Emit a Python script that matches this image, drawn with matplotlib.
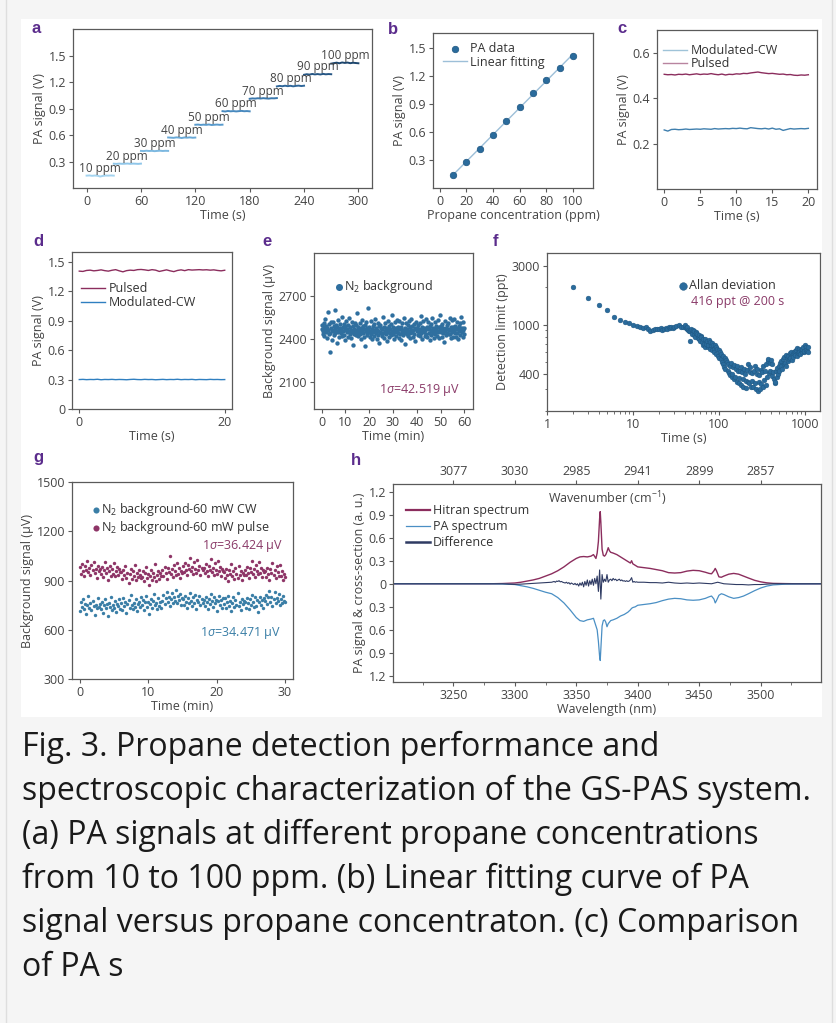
import numpy as np
import matplotlib
matplotlib.use('Agg')
import matplotlib.pyplot as plt
from matplotlib.lines import Line2D
from matplotlib.patches import Rectangle
import matplotlib.ticker as mticker

W, H = 836, 1023
plt.rcParams['font.family'] = ['Open Sans', 'DejaVu Sans']
plt.rcParams['mathtext.fontset'] = 'custom'
plt.rcParams['mathtext.rm'] = 'Open Sans'
plt.rcParams['mathtext.it'] = 'Open Sans:italic'
plt.rcParams['font.size'] = 9

MAROON = '#8b2d5d'
BLUE = '#3f7fae'
NAVY = '#2f3b63'
TXT = '#444444'

# ---------------- data ----------------
# (a) step responses
a_conc_labels = ['10 ppm', '20 ppm', '30 ppm', '40 ppm', '50 ppm', '60 ppm', '70 ppm', '80 ppm', '90 ppm', '100 ppm']
a_step_start = [0, 30, 60, 90, 120, 150, 180, 210, 240, 270]
a_steps = [
    [0.140, 0.142, 0.138, 0.141, 0.139, 0.130, 0.137, 0.141, 0.140, 0.142, 0.140],
    [0.275, 0.273, 0.276, 0.274, 0.275, 0.277, 0.274, 0.276, 0.275, 0.273, 0.276],
    [0.420, 0.418, 0.422, 0.419, 0.421, 0.417, 0.420, 0.422, 0.419, 0.421, 0.420],
    [0.572, 0.570, 0.568, 0.573, 0.571, 0.566, 0.572, 0.570, 0.573, 0.569, 0.571],
    [0.716, 0.718, 0.714, 0.717, 0.715, 0.719, 0.713, 0.716, 0.718, 0.715, 0.717],
    [0.870, 0.866, 0.872, 0.868, 0.871, 0.867, 0.870, 0.873, 0.869, 0.871, 0.868],
    [1.010, 1.014, 1.012, 1.016, 1.013, 1.017, 1.014, 1.012, 1.016, 1.015, 1.018],
    [1.150, 1.156, 1.152, 1.158, 1.153, 1.157, 1.151, 1.156, 1.159, 1.154, 1.158],
    [1.282, 1.288, 1.284, 1.291, 1.286, 1.290, 1.285, 1.292, 1.287, 1.290, 1.288],
    [1.408, 1.414, 1.419, 1.412, 1.421, 1.416, 1.420, 1.413, 1.418, 1.415, 1.412],
]
a_colors = ['#a3d3ef', '#8fc6e9', '#7cb8e0', '#69a9d7', '#589acc', '#4889be', '#3b78ad',
            '#30679a', '#265684', '#1c456d']

# (b) linear fit
b_conc = [10, 20, 30, 40, 50, 60, 70, 80, 90, 100]
b_signal = [0.140, 0.275, 0.420, 0.572, 0.716, 0.870, 1.015, 1.155, 1.288, 1.416]

# (c) 0-20 s, 0.5 s step
c_pulsed = [0.505, 0.503, 0.504, 0.502, 0.505, 0.504, 0.506, 0.503, 0.505, 0.507, 0.504, 0.506, 0.505, 0.508,
            0.505, 0.503, 0.506, 0.502, 0.505, 0.504, 0.507, 0.506, 0.509, 0.508, 0.511, 0.513, 0.515, 0.512,
            0.510, 0.508, 0.509, 0.507, 0.505, 0.506, 0.503, 0.504, 0.501, 0.500, 0.502, 0.501, 0.503]
c_cw = [0.260, 0.255, 0.262, 0.263, 0.261, 0.262, 0.264, 0.262, 0.263, 0.264, 0.263, 0.265, 0.264, 0.263,
        0.266, 0.264, 0.265, 0.266, 0.265, 0.267, 0.266, 0.268, 0.266, 0.265, 0.270, 0.268, 0.266, 0.265,
        0.267, 0.264, 0.268, 0.263, 0.265, 0.258, 0.262, 0.266, 0.264, 0.265, 0.266, 0.265, 0.267]

# (d) 0-20 s, 0.5 s step
d_pulsed = [1.405, 1.402, 1.412, 1.415, 1.408, 1.412, 1.418, 1.410, 1.405, 1.414, 1.420, 1.408, 1.398, 1.410,
            1.415, 1.412, 1.420, 1.422, 1.418, 1.412, 1.420, 1.415, 1.402, 1.410, 1.418, 1.408, 1.400, 1.412,
            1.418, 1.410, 1.420, 1.416, 1.418, 1.420, 1.417, 1.419, 1.415, 1.418, 1.412, 1.408, 1.414]
d_cw = [0.300, 0.302, 0.299, 0.301, 0.300, 0.303, 0.298, 0.301, 0.300, 0.302, 0.299, 0.301, 0.300, 0.298,
        0.301, 0.303, 0.300, 0.299, 0.302, 0.300, 0.301, 0.298, 0.300, 0.302, 0.299, 0.301, 0.300, 0.303,
        0.299, 0.301, 0.300, 0.302, 0.298, 0.301, 0.300, 0.299, 0.302, 0.300, 0.301, 0.299, 0.300]

# (e) N2 background over 60 min (uV)
e_bg = [
    2471, 2498, 2436, 2455, 2512, 2480, 2421, 2467, 2539, 2448, 2490, 2403, 2475, 2460, 2586, 2432, 2506, 2310, 2444, 2521,
    2478, 2395, 2463, 2517, 2452, 2488, 2426, 2470, 2601, 2441, 2495, 2458, 2372, 2484, 2449, 2530, 2466, 2412, 2477, 2503,
    2438, 2462, 2551, 2419, 2486, 2453, 2507, 2430, 2474, 2389, 2493, 2459, 2527, 2445, 2468, 2416, 2499, 2455, 2545, 2436,
    2481, 2407, 2465, 2520, 2447, 2490, 2358, 2472, 2432, 2511, 2456, 2498, 2425, 2463, 2578, 2441, 2484, 2418, 2469, 2450,
    2509, 2437, 2476, 2399, 2458, 2533, 2444, 2488, 2413, 2467, 2496, 2351, 2452, 2519, 2439, 2474, 2428, 2460, 2615, 2446,
    2482, 2410, 2455, 2524, 2435, 2470, 2396, 2487, 2449, 2505, 2423, 2461, 2540, 2443, 2478, 2401, 2464, 2514, 2430, 2457,
    2489, 2372, 2451, 2497, 2438, 2475, 2420, 2468, 2552, 2442, 2483, 2409, 2456, 2510, 2434, 2479, 2386, 2462, 2526, 2447,
    2471, 2415, 2493, 2440, 2466, 2504, 2427, 2458, 2569, 2436, 2485, 2398, 2463, 2516, 2445, 2477, 2419, 2459, 2535, 2441,
    2480, 2404, 2467, 2523, 2433, 2472, 2391, 2486, 2450, 2508, 2424, 2460, 2547, 2439, 2476, 2365, 2457, 2513, 2431, 2469,
    2494, 2418, 2454, 2528, 2443, 2481, 2406, 2465, 2536, 2448, 2487, 2412, 2461, 2502, 2437, 2473, 2383, 2470, 2519, 2452,
    2475, 2429, 2496, 2444, 2468, 2511, 2422, 2459, 2558, 2440, 2482, 2400, 2464, 2525, 2446, 2479, 2417, 2462, 2541, 2435,
    2484, 2411, 2469, 2518, 2438, 2477, 2394, 2488, 2453, 2506, 2426, 2463, 2549, 2442, 2474, 2408, 2458, 2515, 2433, 2471,
    2491, 2420, 2457, 2531, 2445, 2483, 2403, 2466, 2564, 2449, 2489, 2414, 2460, 2504, 2439, 2476, 2380, 2472, 2522, 2454,
    2478, 2425, 2498, 2442, 2470, 2513, 2431, 2461, 2543, 2437, 2485, 2405, 2467, 2529, 2448, 2480, 2416, 2463, 2537, 2444,
    2487, 2413, 2472, 2521, 2440, 2479, 2397, 2490, 2456, 2509, 2428, 2466, 2555, 2446, 2477, 2410, 2459, 2517, 2436, 2474,
]

# (f) Allan deviation (ppt)
f_time_sparse = [2, 3, 4, 5, 6, 7, 8, 9, 10, 11, 12, 13, 14, 15, 16, 17, 18, 19, 20, 21, 22, 23, 24, 25, 26, 27,
                 28, 29, 30, 32, 34, 36, 38]
f_dev_sparse = [2000, 1640, 1450, 1310, 1160, 1100, 1050, 1030, 1000, 975, 955, 940, 950, 930, 890, 905, 915, 930,
                920, 935, 910, 930, 945, 925, 950, 935, 960, 940, 955, 975, 990, 965, 950]
f_dev_dense = [
    960, 985, 945, 930, 950, 905, 880, 735, 895, 920,
    870, 845, 910, 890, 830, 800, 870, 860, 845, 780,
    830, 760, 740, 805, 790, 720, 770, 680, 700, 660,
    770, 700, 740, 655, 680, 750, 725, 640, 690, 620,
    710, 690, 640, 600, 680, 660, 580, 640, 560, 540,
    620, 600, 530, 580, 500, 555, 480, 450, 540, 435,
    520, 500, 420, 480, 405, 390, 465, 490, 375, 400,
    450, 470, 360, 380, 440, 460, 345, 425, 370, 335,
    420, 325, 450, 410, 360, 315, 440, 400, 350, 305,
    430, 480, 345, 335, 410, 450, 315, 405, 350, 310,
    420, 460, 335, 300, 400, 440, 290, 345, 390, 300,
    430, 330, 410, 465, 315, 355, 420, 480, 325, 375,
    510, 530, 405, 425, 490, 520, 385, 480, 415, 365,
    340, 345, 420, 380, 445, 400, 465, 420, 485, 505,
    460, 440, 525, 480, 545, 490, 565, 460, 535, 560,
    510, 530, 585, 540, 605, 520, 575, 550, 595, 615,
    570, 625, 645, 560, 590, 635, 600, 575, 625, 605,
    640, 665, 595, 615, 685, 655, 625, 615, 665, 605,
]
f_time_dense = np.geomspace(40, 1100, len(f_dev_dense))

# (g) N2 background, 60 mW CW and pulse (uV), 0-30 min
g_cw = [
    712, 768, 741, 785, 729, 756, 698, 749, 803, 733, 760, 721, 777, 744, 690, 752, 731, 795, 739, 758,
    726, 771, 704, 748, 789, 735, 755, 682, 762, 741, 798, 718, 750, 733, 774, 709, 757, 744, 786, 728,
    760, 719, 793, 744, 768, 702, 757, 781, 735, 812, 750, 726, 765, 741, 790, 713, 759, 772, 737, 800,
    748, 781, 722, 766, 805, 739, 770, 697, 757, 788, 731, 774, 816, 750, 763, 728, 791, 745, 769, 734,
    773, 812, 758, 795, 831, 769, 801, 742, 788, 826, 765, 797, 778, 845, 760, 804, 783, 819, 751, 792,
    789, 752, 806, 771, 734, 795, 760, 821, 777, 746, 799, 765, 812, 729, 784, 770, 803, 748, 790, 762,
    781, 745, 797, 768, 726, 790, 755, 818, 773, 739, 801, 762, 784, 712, 775, 808, 750, 779, 735, 796,
    758, 792, 731, 770, 806, 744, 777, 715, 762, 799, 738, 781, 752, 825, 747, 769, 722, 788, 756, 774,
    771, 735, 794, 760, 728, 785, 752, 813, 766, 739, 798, 745, 779, 708, 770, 802, 748, 783, 733, 791,
    776, 812, 758, 797, 838, 769, 801, 745, 789, 829, 764, 794, 773, 818, 752, 786, 760, 803, 777, 768,
]
g_pulse = [
    982, 941, 1003, 958, 927, 991, 966, 1020, 949, 978, 935, 997, 961, 1012, 944, 972, 918, 986, 955, 969,
    938, 984, 921, 962, 1015, 946, 975, 903, 957, 991, 930, 968, 942, 1004, 925, 959, 981, 936, 973, 949,
    952, 909, 967, 931, 988, 918, 944, 885, 939, 972, 912, 955, 928, 994, 906, 948, 923, 961, 934, 917,
    924, 959, 896, 943, 981, 915, 937, 870, 929, 966, 905, 948, 920, 1001, 899, 935, 957, 911, 944, 926,
    963, 928, 985, 946, 912, 974, 951, 1052, 938, 969, 921, 992, 955, 935, 1008, 942, 976, 918, 960, 947,
    986, 951, 1004, 965, 932, 996, 973, 1038, 958, 981, 940, 1012, 968, 947, 1025, 961, 990, 936, 977, 963,
    979, 944, 998, 960, 925, 988, 966, 1030, 952, 975, 933, 1007, 962, 941, 1016, 955, 983, 929, 970, 957,
    951, 917, 969, 936, 898, 962, 941, 1001, 928, 955, 909, 978, 939, 915, 990, 931, 958, 903, 946, 934,
    966, 931, 985, 948, 913, 977, 953, 1018, 940, 970, 924, 996, 957, 937, 1011, 944, 979, 919, 962, 949,
    958, 922, 977, 941, 905, 969, 946, 1009, 932, 961, 915, 988, 950, 928, 996, 926, 955, 906, 938, 921,
]

# (h) spectra
h_wl = [3200, 3250, 3280, 3290, 3300, 3305, 3310, 3315, 3320, 3325, 3330, 3335, 3340, 3345, 3350, 3353, 3356,
        3359, 3362, 3364, 3366, 3367, 3368, 3369, 3369.5, 3370, 3371, 3372, 3373, 3374, 3375, 3376, 3377, 3378,
        3380, 3383, 3386, 3389, 3392, 3394, 3395, 3396, 3398, 3400, 3405, 3410, 3415, 3420, 3425, 3430, 3435,
        3440, 3445, 3450, 3455, 3458, 3460, 3462, 3463, 3464, 3466, 3468, 3470, 3474, 3478, 3482, 3486, 3490,
        3495, 3500, 3505, 3510, 3520, 3530, 3550]
h_hitran = [0.0, 0.0, 0.0, 0.003, 0.01, 0.02, 0.035, 0.05, 0.07, 0.10, 0.13, 0.17, 0.22, 0.28, 0.33, 0.35, 0.355,
            0.35, 0.36, 0.38, 0.33, 0.40, 0.55, 0.85, 0.94, 0.80, 0.45, 0.37, 0.36, 0.38, 0.42, 0.47, 0.43, 0.41,
            0.40, 0.38, 0.35, 0.32, 0.29, 0.27, 0.30, 0.26, 0.24, 0.22, 0.21, 0.20, 0.185, 0.17, 0.145, 0.14,
            0.145, 0.165, 0.175, 0.17, 0.15, 0.135, 0.13, 0.17, 0.20, 0.17, 0.09, 0.085, 0.10, 0.125, 0.135,
            0.125, 0.10, 0.075, 0.045, 0.025, 0.012, 0.005, 0.002, 0.0, 0.0]
h_pa = [0.0, 0.0, 0.0, 0.003, 0.01, 0.025, 0.04, 0.06, 0.085, 0.11, 0.13, 0.18, 0.25, 0.34, 0.44, 0.48, 0.49,
        0.47, 0.46, 0.45, 0.55, 0.60, 0.75, 0.95, 1.00, 0.85, 0.55, 0.48, 0.47, 0.50, 0.56, 0.52, 0.50, 0.48,
        0.47, 0.45, 0.42, 0.40, 0.37, 0.34, 0.32, 0.31, 0.30, 0.28, 0.27, 0.26, 0.245, 0.22, 0.20, 0.19, 0.195,
        0.21, 0.215, 0.21, 0.19, 0.17, 0.16, 0.20, 0.25, 0.22, 0.15, 0.13, 0.14, 0.17, 0.19, 0.18, 0.16, 0.13,
        0.09, 0.055, 0.03, 0.015, 0.005, 0.002, 0.0]
h_diff_wl = np.r_[np.arange(3200, 3331, 5), np.arange(3331, 3401, 1), np.arange(3405, 3551, 5)]
h_diff = [0, 0, 0, 0, 0, 0, 0, 0, 0, 0, 0, 0, 0, 0, 0, 0, 0, 0, 0, -0.005, -0.008, -0.005, 0.0, 0.005, 0.01,
          0.015, 0.02,
          0.025, 0.03, 0.02, 0.035, 0.03, 0.04, 0.025, 0.03, 0.02, 0.015, 0.01, 0.02, 0.005, 0.015, -0.005, 0.01,
          0.0, -0.01, 0.005, -0.015, 0.0, -0.03, 0.01, -0.02, 0.02, -0.04, 0.03, -0.02, 0.05, -0.03, 0.04, -0.01,
          0.06, -0.02, 0.07, 0.0, 0.10, -0.10, 0.18, -0.20, 0.12, 0.02, 0.06, 0.03, 0.12, 0.02, 0.05, 0.06, 0.04,
          0.07, 0.05, 0.06, 0.04, 0.05, 0.06, 0.04, 0.05, 0.035, 0.04, 0.03, 0.04, 0.03, 0.035, 0.05, 0.08, 0.02,
          0.03, 0.02, 0.025, 0.02,
          0.02, 0.015, 0.015, 0.01, 0.02, 0.01, 0.005, 0.01, 0.005, 0.01, 0.005, 0.0, 0.02, 0.0, -0.005, -0.01,
          -0.01, -0.015, -0.01, -0.01, -0.005, 0, 0, 0, 0, 0, 0, 0, 0, 0]

caption_lines = [
    "Fig. 3. Propane detection performance and",
    "spectroscopic characterization of the GS-PAS system.",
    "(a) PA signals at different propane concentrations",
    "from 10 to 100 ppm. (b) Linear fitting curve of PA",
    "signal versus propane concentraton. (c) Comparison",
    "of PA s",
]

# ---------------- figure ----------------
fig = plt.figure(figsize=(W / 100, H / 100), dpi=100)
fig.patch.set_facecolor('#f5f5f5')
fig.add_artist(Rectangle((21 / W, 1 - 717 / H), (822 - 21) / W, (717 - 19) / H, transform=fig.transFigure,
                         facecolor='white', edgecolor='none', zorder=0))
fig.add_artist(Line2D([6 / W, 6 / W], [0, 1], color='#dedede', lw=1, transform=fig.transFigure))
fig.add_artist(Line2D([832 / W, 832 / W], [0, 1], color='#dedede', lw=1, transform=fig.transFigure))


def make_ax(l, t, r, b):
    ax = fig.add_axes([l / W, 1 - b / H, (r - l) / W, (b - t) / H])
    for s in ax.spines.values():
        s.set_color('#5a5a5a')
        s.set_linewidth(0.9)
    ax.tick_params(direction='out', length=3, width=0.8, color='#5a5a5a', labelcolor=TXT, labelsize=9, pad=2)
    ax.xaxis.label.set_color(TXT)
    ax.yaxis.label.set_color(TXT)
    return ax


def letter(x, y, s):
    fig.text(x / W, 1 - y / H, s, fontsize=12, fontweight='bold', color='#5b2c8c',
             family='Liberation Sans', ha='left', va='baseline')


def put_legend(ax, handles, labels, x, y, **kw):
    leg = ax.legend(handles, labels, loc='upper left', bbox_to_anchor=(x / W, 1 - y / H),
                    bbox_transform=fig.transFigure, frameon=False, borderpad=0, borderaxespad=0,
                    fontsize=9, **kw)
    for t in leg.get_texts():
        t.set_color('#333333')
    return leg


# (a)
ax = make_ax(73, 29, 372, 188)
for st, vals, col, lab in zip(a_step_start, a_steps, a_colors, a_conc_labels):
    tt = np.linspace(st, st + 30, len(vals))
    ax.plot(tt, vals, color=col, lw=1.4)
    ax.text(st + 15, np.mean(vals) + 0.01, lab, ha='center', va='bottom', fontsize=8.5, color=TXT)
ax.set_xlim(-15, 315)
ax.set_ylim(0, 1.8)
ax.set_xticks([0, 60, 120, 180, 240, 300])
ax.set_yticks([0.3, 0.6, 0.9, 1.2, 1.5])
ax.set_xlabel('Time (s)', fontsize=9, labelpad=1)
ax.set_ylabel('PA signal (V)', fontsize=9, labelpad=2)
letter(31, 33, 'a')

# (b)
ax = make_ax(433, 33, 593, 188)
coef = np.polyfit(b_conc, b_signal, 1)
xf = np.array([b_conc[0], b_conc[-1]])
lf, = ax.plot(xf, np.polyval(coef, xf), color='#9dbfd8', lw=1.0, zorder=1)
sc = ax.scatter(b_conc, b_signal, s=22, color='#2a6b9c', edgecolor='#1d5580', linewidth=0.5, zorder=2)
ax.set_xlim(-5, 115)
ax.set_ylim(0, 1.66)
ax.set_xticks([0, 20, 40, 60, 80, 100])
ax.set_yticks([0.3, 0.6, 0.9, 1.2, 1.5])
ax.set_xlabel('Propane concentration (ppm)', fontsize=9, labelpad=1)
ax.set_ylabel('PA signal (V)', fontsize=9, labelpad=2)
put_legend(ax, [sc, lf], ['PA data', 'Linear fitting'], 443, 42, handlelength=1.9, handletextpad=0.3,
           labelspacing=0.05)
letter(388, 34, 'b')

# (c)
ax = make_ax(657, 30, 817, 189)
tc = np.linspace(0, 20, len(c_cw))
l1, = ax.plot(tc, c_cw, color=BLUE, lw=1.0)
l2, = ax.plot(tc, c_pulsed, color=MAROON, lw=1.0)
ax.set_xlim(-1, 21.2)
ax.set_ylim(0, 0.7)
ax.set_xticks([0, 5, 10, 15, 20])
ax.set_yticks([0.2, 0.4, 0.6])
ax.set_xlabel('Time (s)', fontsize=9, labelpad=1)
ax.set_ylabel('PA signal (V)', fontsize=9, labelpad=2)
lg = put_legend(ax, [l1, l2], ['Modulated-CW', 'Pulsed'], 663, 44, handlelength=1.9, handletextpad=0.3,
                labelspacing=0.0)
for ln, c in zip(lg.get_lines(), ['#9fc3d8', '#b8849f']):
    ln.set_color(c)
letter(617, 33, 'c')

# (d)
ax = make_ax(72, 252, 232, 409)
td = np.linspace(0, 20, len(d_cw))
l1, = ax.plot(td, d_pulsed, color=MAROON, lw=1.0)
l2, = ax.plot(td, d_cw, color='#2f7fc0', lw=1.0)
ax.set_xlim(-1, 21)
ax.set_ylim(0, 1.6)
ax.set_xticks([0, 20])
ax.set_yticks([0, 0.3, 0.6, 0.9, 1.2, 1.5])
ax.set_yticklabels(['0', '0.3', '0.6', '0.9', '1.2', '1.5'])
ax.set_xlabel('Time (s)', fontsize=9, labelpad=1)
ax.set_ylabel('PA signal (V)', fontsize=9, labelpad=2)
put_legend(ax, [l1, l2], ['Pulsed', 'Modulated-CW'], 81, 282, handlelength=1.9, handletextpad=0.3,
           labelspacing=0.1)
letter(33, 246, 'd')

# (e)
ax = make_ax(314, 253, 473, 409)
te = np.linspace(0, 60, len(e_bg))
sc = ax.scatter(te, e_bg, s=10, color='#2f6f9f', linewidths=0)
ax.set_xlim(-3.2, 63.6)
ax.set_ylim(1910, 3000)
ax.set_xticks([0, 10, 20, 30, 40, 50, 60])
ax.set_yticks([2100, 2400, 2700])
ax.set_xlabel('Time (min)', fontsize=9, labelpad=1)
ax.set_ylabel('Background signal (μV)', fontsize=9, labelpad=2)
put_legend(ax, [sc], ['N$_2$ background'], 336, 278, handlelength=0.5, handletextpad=0.15, markerscale=1.6)
ax.text(41.3, 2044, r'1$\sigma$=42.519 μV', ha='center', va='center', fontsize=9, color='#8a3a68')
letter(262, 246, 'e')

# (f)
ax = make_ax(547, 253, 820, 411)
f_t = np.r_[f_time_sparse, f_time_dense]
f_v = np.r_[f_dev_sparse, f_dev_dense]
sc = ax.scatter(f_t, f_v, s=12, color='#2a6b9c', edgecolor='#1d5580', linewidth=0.3)
ax.set_xscale('log')
ax.set_yscale('log')
ax.set_xlim(1, 1500)
ax.set_ylim(200, 3800)
ax.set_xticks([1, 10, 100, 1000])
ax.xaxis.set_major_formatter(mticker.FuncFormatter(lambda v, p: f'{v:g}'))
ax.set_yticks([400, 1000, 3000])
ax.yaxis.set_major_formatter(mticker.FuncFormatter(lambda v, p: f'{v:g}'))
ax.yaxis.set_minor_formatter(mticker.NullFormatter())
ax.tick_params(which='minor', length=1.8, width=0.6, color='#5a5a5a')
ax.set_xlabel('Time (s)', fontsize=9, labelpad=1)
ax.set_ylabel('Detection limit (ppt)', fontsize=9, labelpad=2)
put_legend(ax, [sc], ['Allan deviation'], 679, 279, handlelength=0.6, handletextpad=0.2, markerscale=1.6)
ax.text(46.9, 1543, '416 ppt @ 200 s', ha='left', va='center', fontsize=9, color='#8a3a68')
letter(493, 246, 'f')

# (g)
ax = make_ax(72, 482, 293, 679)
tg = np.linspace(0, 30, len(g_cw))
s1 = ax.scatter(tg, g_cw, s=6, color='#3a7ea6', linewidths=0)
s2 = ax.scatter(tg, g_pulse, s=6, color='#8e3567', linewidths=0)
ax.set_xlim(-1.2, 31.2)
ax.set_ylim(300, 1500)
ax.set_xticks([0, 10, 20, 30])
ax.set_yticks([300, 600, 900, 1200, 1500])
ax.set_xlabel('Time (min)', fontsize=9, labelpad=1)
ax.set_ylabel('Background signal (μV)', fontsize=9, labelpad=2)
put_legend(ax, [s1, s2], ['N$_2$ background-60 mW CW', 'N$_2$ background-60 mW pulse'], 93, 501,
           handlelength=0.5, handletextpad=0.15, markerscale=1.8, labelspacing=0.1)
ax.text(23.8, 1110, r'1$\sigma$=36.424 μV', ha='center', va='center', fontsize=9, color='#8a3a68')
ax.text(23.5, 580, r'1$\sigma$=34.471 μV', ha='center', va='center', fontsize=9, color='#3a7ea6')
letter(33, 462, 'g')

# (h)
ax = make_ax(393, 484, 821, 682)
l1, = ax.plot(h_wl, h_hitran, color=MAROON, lw=1.0)
l2, = ax.plot(h_wl, -np.array(h_pa), color='#4a8fc4', lw=0.9)
l3, = ax.plot(h_diff_wl, h_diff, color=NAVY, lw=0.8)
ax.set_xlim(3201, 3549)
ax.set_ylim(-1.28, 1.30)
wl_ticks = [3250, 3300, 3350, 3400, 3450, 3500]
ax.set_xticks(wl_ticks)
ax.xaxis.set_minor_locator(mticker.MultipleLocator(25))
ax.tick_params(which='minor', length=2, width=0.6, color='#5a5a5a')
yt = [-1.2, -0.9, -0.6, -0.3, 0, 0.3, 0.6, 0.9, 1.2]
ax.set_yticks(yt)
ax.set_yticklabels([f'{abs(v):g}' for v in yt])
ax.set_xlabel('Wavelength (nm)', fontsize=9, labelpad=1)
ax.set_ylabel('PA signal & cross-section (a. u.)', fontsize=9, labelpad=2)
top = ax.twiny()
top.set_xlim(ax.get_xlim())
top.set_xticks(wl_ticks)
top.set_xticklabels([f'{1e7 / w:.0f}' for w in wl_ticks])
top.tick_params(direction='out', length=3, width=0.8, color='#5a5a5a', labelcolor=TXT, labelsize=9, pad=1)
for s in top.spines.values():
    s.set_visible(False)
fig.text(607.7 / W, 1 - 499 / H, 'Wavenumber (cm$^{-1}$)', ha='center', va='center', fontsize=9, color=TXT)
lg = put_legend(ax, [l1, l2, l3], ['Hitran spectrum', 'PA spectrum', 'Difference'], 406, 504,
                handlelength=1.9, handletextpad=0.25, labelspacing=0.25)
for ln, lw in zip(lg.get_lines(), [1.6, 0.9, 1.8]):
    ln.set_linewidth(lw)
letter(351, 465, 'h')

# caption
for i, line in enumerate(caption_lines):
    fig.text(22 / W, 1 - (756 + 44 * i) / H, line, fontsize=23, color='#1a1a1a', ha='left', va='baseline',
             family='Open Sans')

fig.savefig('out.png', dpi=100, facecolor=fig.get_facecolor())
